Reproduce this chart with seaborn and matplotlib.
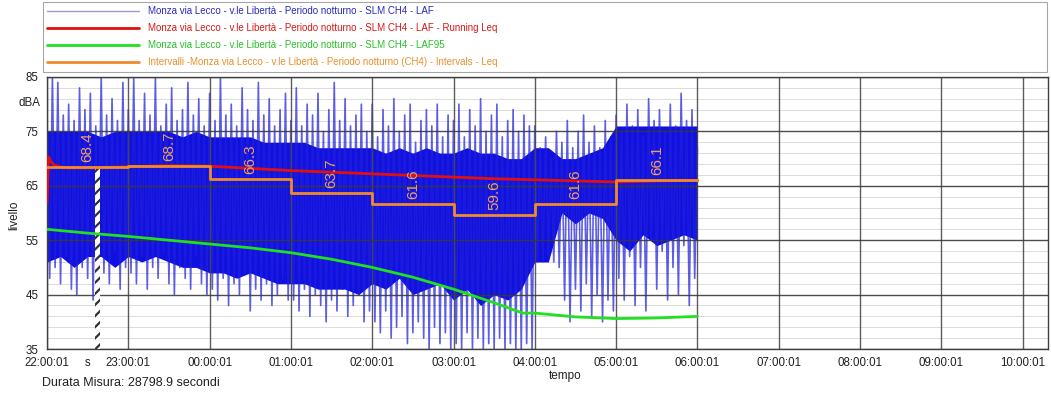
import numpy as np
import pandas as pd
import matplotlib
matplotlib.use("Agg")
import matplotlib.pyplot as plt
import seaborn as sns
from matplotlib.ticker import FixedLocator

# ---------------- data ----------------
# LAF (2-minute peaks/troughs, dBA) from 22:00:01 to 06:00:01, one row per hour
laf_22 = [76, 48, 85, 50, 84, 47, 78, 52, 80, 46, 77, 45, 83, 50, 79, 48, 82, 44, 76, 51, 85, 49, 78, 47, 81, 53, 77, 46, 84, 50]
laf_23 = [79, 49, 85, 47, 77, 52, 82, 46, 78, 50, 85, 48, 76, 53, 80, 47, 83, 45, 77, 50, 79, 48, 84, 46, 78, 52, 81, 47, 76, 45]
laf_00 = [82, 46, 77, 44, 85, 48, 78, 43, 80, 47, 76, 45, 83, 49, 79, 42, 77, 46, 84, 44, 78, 47, 81, 43, 76, 45, 79, 48, 82, 44]
laf_01 = [77, 44, 83, 42, 76, 46, 80, 41, 78, 45, 82, 43, 75, 40, 79, 44, 84, 42, 77, 46, 81, 41, 76, 43, 78, 45, 80, 40, 75, 42]
laf_02 = [80, 40, 74, 38, 79, 42, 76, 37, 81, 39, 75, 41, 78, 36, 80, 38, 73, 40, 77, 37, 79, 35, 76, 39, 80, 36, 74, 38, 78, 35]
laf_03 = [77, 36, 80, 35, 74, 38, 79, 35, 76, 37, 81, 35, 75, 36, 78, 35, 80, 37, 74, 35, 77, 36, 79, 35, 75, 35, 78, 36, 76, 35]
laf_04 = [76, 51, 72, 51, 74, 52, 70, 51, 75, 50, 73, 44, 77, 40, 72, 46, 75, 42, 78, 47, 73, 41, 76, 45, 72, 40, 77, 44, 74, 42]
laf_05 = [78, 48, 75, 44, 80, 52, 76, 43, 79, 50, 74, 42, 81, 55, 77, 46, 79, 53, 75, 44, 80, 50, 76, 45, 82, 54, 77, 43, 79, 48]
laf_end = [72]
laf_step_min = 2

# dense core of the LAF trace, every 10 minutes (dBA)
core_hi = [75, 75, 75, 75, 74, 75, 75, 75, 75, 75, 74, 75, 74, 74, 74, 74, 73, 73,
           73, 73, 72, 72, 72, 72, 72, 71, 72, 71, 72, 71, 71, 72, 71, 71, 70, 70,
           72, 72, 70, 70, 71, 72, 76, 76, 76, 76, 76, 76, 76]
core_lo = [51, 52, 50, 52, 52, 50, 52, 51, 52, 51, 50, 50, 49, 49, 48, 49, 48, 47,
           47, 47, 46, 46, 46, 45, 47, 46, 48, 45, 46, 47, 44, 46, 43, 45, 44, 46,
           51, 51, 60, 58, 60, 59, 55, 53, 56, 54, 55, 56, 55]

# Running Leq (hours after 22:00:01, dBA)
rleq_t = [0, 0.02, 0.04, 0.08, 0.15, 0.25, 0.5, 1, 1.5, 2, 2.5, 3, 3.5, 4, 4.5, 5, 5.5, 6, 6.5, 7, 7.5, 8]
rleq_v = [62.0, 70.3, 69.6, 68.9, 68.5, 68.3, 68.3, 68.5, 68.7, 68.6, 68.2, 67.8, 67.5, 67.2, 66.9, 66.6, 66.3, 66.1, 65.9, 65.7, 65.9, 66.0]

# LAF95
l95_t = [0, 0.5, 1, 1.5, 2, 2.5, 3, 3.5, 4, 4.5, 5, 5.5, 5.85, 6, 6.5, 7, 7.5, 8]
l95_v = [57.0, 56.3, 55.7, 55.0, 54.3, 53.6, 52.7, 51.5, 50.0, 48.2, 46.0, 43.5, 41.6, 41.6, 40.9, 40.6, 40.7, 41.0]

# Intervals Leq (hourly)
int_start = [0, 1, 2, 3, 4, 5, 6, 7, 8]
int_leq = [68.4, 68.7, 66.3, 63.7, 61.6, 59.6, 61.6, 66.1]
int_lbl = ["68.4", "68.7", "66.3", "63.7", "61.6", "59.6", "61.6", "66.1"]

x_ticks = [0, 0.5, 1, 2, 3, 4, 5, 6, 7, 8, 9, 10, 11, 12]
x_labels = ["22:00:01", "s", "23:00:01", "00:00:01", "01:00:01", "02:00:01", "03:00:01",
            "04:00:01", "05:00:01", "06:00:01", "07:00:01", "08:00:01", "09:00:01", "10:00:01"]
y_ticks = [35, 45, 55, 65, 75, 85]
y_minor = list(range(37, 85, 2))
marker_x = 0.62

legend_labels = [
    "Monza via Lecco - v.le Libertà - Periodo notturno - SLM CH4 - LAF",
    "Monza via Lecco - v.le Libertà - Periodo notturno - SLM CH4 - LAF - Running Leq",
    "Monza via Lecco - v.le Libertà - Periodo notturno - SLM CH4 - LAF95",
    "Intervalli -Monza via Lecco - v.le Libertà - Periodo notturno (CH4) - Intervals - Leq",
]

# ---------------- plotting ----------------
sns.set_theme(style="white")
plt.rcParams["font.family"] = ["Liberation Sans", "DejaVu Sans"]
plt.rcParams["hatch.linewidth"] = 1.6

fig = plt.figure(figsize=(10.51, 3.96), dpi=100)
ax = fig.add_axes([47 / 1051, 1 - 349 / 396, (1048 - 47) / 1051, (349 - 77) / 396])

laf = laf_22 + laf_23 + laf_00 + laf_01 + laf_02 + laf_03 + laf_04 + laf_05 + laf_end
laf_t = np.arange(len(laf)) * laf_step_min / 60.0
core_t = np.arange(len(core_hi)) * 10 / 60.0

C_BLUE = "#2020dc"
C_RED = "#e01010"
C_GREEN = "#20e020"
C_ORANGE = "#f08a2a"

# light minor grid (beneath everything)
for yv in y_minor:
    if yv not in y_ticks:
        ax.axhline(yv, color="#dcdcdc", lw=0.7, zorder=0.3)

ax.fill_between(core_t, core_lo, core_hi, color="#1010e0", lw=0, zorder=1)
sns.lineplot(x=laf_t, y=laf, ax=ax, color=C_BLUE, lw=1.2, alpha=0.72,
             estimator=None, sort=False, zorder=1.2, label=legend_labels[0])
sns.lineplot(x=rleq_t, y=rleq_v, ax=ax, color=C_RED, lw=2, estimator=None, sort=False,
             zorder=3, label=legend_labels[1])
sns.lineplot(x=l95_t, y=l95_v, ax=ax, color=C_GREEN, lw=2, estimator=None, sort=False,
             zorder=3, label=legend_labels[2])
sns.lineplot(x=int_start, y=int_leq + [int_leq[-1]], ax=ax, color=C_ORANGE, lw=2,
             drawstyle="steps-post", estimator=None, sort=False, zorder=3.2,
             label=legend_labels[3])

for s, v, t in zip(int_start, int_leq, int_lbl):
    ax.text(s + 0.5, v + 0.9, t, rotation=90, ha="center", va="bottom",
            color="#f0a060", fontsize=11, zorder=4)

# hatched marker
ax.bar([marker_x], [int_leq[0] - 35], bottom=35, width=0.06, fill=True,
       facecolor="white", hatch="///", edgecolor="#303030", linewidth=0, zorder=2.9)

ax.set_xlim(0, (1048 - 47) / 81.3)
ax.set_ylim(35, 85)
ax.xaxis.set_major_locator(FixedLocator(x_ticks))
ax.set_xticklabels(x_labels, fontsize=8.3)
ax.yaxis.set_major_locator(FixedLocator(y_ticks))
ax.set_yticklabels([str(v) for v in y_ticks], fontsize=8.3)
ax.tick_params(axis="both", which="major", direction="out", length=4, width=0.8,
               color="#404040", pad=2, labelcolor="#202020")

ax.set_axisbelow("line")
ax.grid(True, which="major", axis="y", color="#3a3a3a", lw=1.0, alpha=0.9)
ax.grid(True, which="major", axis="x", color="#4a4a4a", lw=1.0, alpha=0.9)
for gl, tv in zip(ax.get_xgridlines(), x_ticks):
    if tv == 0.5:
        gl.set_visible(False)

for sp in ax.spines.values():
    sp.set_color("#404040")
    sp.set_linewidth(1.0)

ax.set_xlabel("")
ax.set_ylabel("")

leg = ax.get_legend()
handles, labels = ax.get_legend_handles_labels()
leg.remove()
fig_leg = fig.legend(handles, labels, loc="upper left",
                     bbox_to_anchor=(43 / 1051, 1 - 70 / 396, (1047 - 43) / 1051, 68 / 396),
                     bbox_transform=fig.transFigure, mode="expand", borderaxespad=0,
                     fontsize=7.0, frameon=True, fancybox=False, handlelength=9.4,
                     handletextpad=1.0, labelspacing=0.72, borderpad=0.45)
fig_leg.get_frame().set_edgecolor("#909090")
fig_leg.get_frame().set_linewidth(0.8)
text_cols = ["#2a2ab8", "#d81818", "#28c028", "#e8902a"]
for txt, c in zip(fig_leg.get_texts(), text_cols):
    txt.set_color(c)
fig_leg.get_lines()[0].set_color("#9a9ad8")
fig_leg.get_lines()[0].set_alpha(1)
fig_leg.get_lines()[0].set_linewidth(1.0)

fig.text(40 / 1051, 1 - 103 / 396, "dBA", ha="right", va="center", fontsize=8.3, color="#202020")
fig.text(14 / 1051, 1 - 215 / 396, "livello", rotation=90, ha="center", va="center",
         fontsize=8.5, color="#202020")
fig.text(565 / 1051, 1 - 376 / 396, "tempo", ha="center", va="center", fontsize=8.5, color="#202020")
fig.text(42 / 1051, 1 - 383 / 396, "Durata Misura: 28798.9 secondi", ha="left", va="center",
         fontsize=9, color="#202020")

fig.savefig("out.png", dpi=100)
